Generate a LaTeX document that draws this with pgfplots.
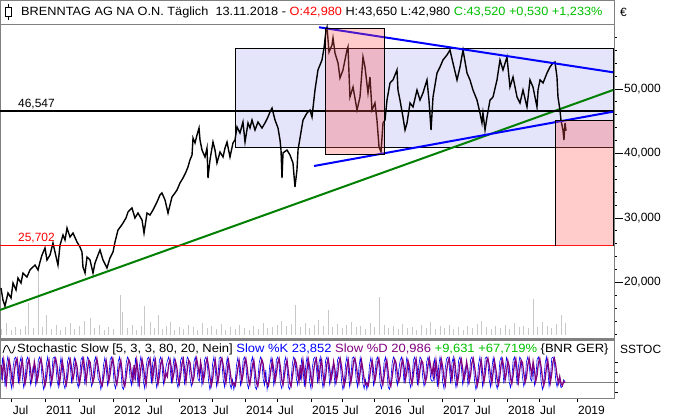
\documentclass[border=0pt]{standalone}
\usepackage{pgfplots}
\pgfplotsset{compat=1.18}
\usepackage{pgfplotstable}
\usepackage{fontspec}
\setmainfont{Liberation Sans}
\newfontfamily\wideA[FakeStretch=1.065]{Liberation Sans}
\newfontfamily\wideB[FakeStretch=1.085]{Liberation Sans}
\definecolor{lav}{RGB}{228,228,250}
\definecolor{pinkb}{RGB}{255,85,85}
\definecolor{dgreen}{RGB}{0,128,0}
\definecolor{tgreen}{RGB}{0,192,0}
\definecolor{purp}{RGB}{128,0,128}
\definecolor{framec}{RGB}{128,128,128}
\definecolor{volc}{RGB}{200,200,200}

\pgfplotstableread{
x y
2010.338 19.15
2010.368 17.29
2010.398 16.36
2010.444 18.37
2010.489 17.60
2010.519 19.92
2010.564 18.84
2010.594 20.70
2010.639 19.92
2010.669 21.47
2010.729 20.85
2010.774 21.94
2010.804 22.25
2010.850 22.71
2010.895 21.94
2010.925 23.18
2010.955 24.26
2011.000 25.35
2011.030 23.49
2011.075 24.26
2011.120 26.12
2011.150 24.73
2011.195 22.71
2011.226 25.81
2011.271 27.36
2011.301 26.59
2011.331 28.45
2011.376 27.05
2011.421 27.67
2011.481 26.28
2011.526 25.50
2011.556 24.73
2011.571 22.40
2011.602 21.47
2011.632 23.95
2011.677 23.49
2011.722 21.47
2011.752 23.02
2011.797 24.26
2011.827 25.04
2011.872 23.49
2011.932 22.25
2011.977 23.80
2012.023 24.73
2012.053 26.28
2012.098 28.14
2012.143 28.76
2012.173 29.22
2012.218 30.00
2012.248 30.93
2012.308 31.55
2012.353 30.00
2012.398 30.77
2012.459 29.69
2012.489 27.67
2012.534 30.77
2012.579 30.46
2012.624 31.24
2012.684 32.48
2012.729 33.57
2012.759 33.88
2012.805 32.79
2012.850 30.77
2012.880 32.02
2012.910 33.26
2012.955 33.88
2012.985 34.34
2013.030 35.43
2013.075 36.20
2013.120 37.13
2013.150 37.91
2013.180 38.99
2013.211 39.77
2013.226 42.40
2013.256 41.63
2013.286 42.87
2013.316 43.95
2013.331 42.09
2013.361 40.54
2013.406 39.46
2013.436 40.85
2013.451 36.20
2013.481 38.99
2013.526 41.78
2013.556 40.54
2013.586 38.53
2013.632 40.23
2013.677 39.46
2013.707 40.85
2013.737 41.78
2013.782 39.46
2013.827 41.63
2013.857 42.09
2013.887 44.11
2013.932 43.18
2013.977 44.88
2014.008 41.78
2014.053 44.73
2014.083 43.95
2014.113 45.19
2014.158 43.64
2014.203 44.88
2014.263 43.95
2014.308 44.73
2014.353 45.66
2014.383 46.43
2014.414 47.05
2014.459 45.19
2014.504 43.95
2014.534 42.09
2014.549 40.54
2014.564 36.20
2014.579 40.08
2014.639 40.54
2014.684 39.77
2014.729 38.53
2014.759 34.81
2014.789 37.44
2014.805 40.54
2014.835 42.40
2014.880 45.19
2014.940 46.28
2014.985 46.74
2015.015 45.66
2015.060 49.84
2015.105 52.95
2015.165 54.50
2015.196 56.36
2015.226 59.15
2015.241 59.61
2015.271 55.74
2015.316 56.82
2015.331 57.91
2015.361 55.58
2015.406 54.03
2015.436 51.71
2015.481 52.95
2015.541 56.05
2015.556 56.51
2015.586 48.76
2015.632 50.31
2015.692 46.74
2015.737 48.76
2015.782 54.96
2015.812 53.41
2015.857 49.38
2015.887 51.86
2015.917 46.74
2015.962 47.83
2015.992 45.19
2016.023 41.01
2016.053 40.23
2016.083 44.73
2016.113 45.19
2016.143 48.29
2016.188 50.93
2016.233 51.40
2016.293 52.95
2016.308 49.84
2016.338 48.29
2016.383 45.66
2016.414 43.64
2016.444 44.73
2016.489 47.83
2016.534 47.21
2016.594 49.84
2016.639 48.29
2016.684 49.38
2016.744 51.40
2016.774 48.29
2016.805 43.64
2016.835 48.76
2016.895 52.48
2016.940 53.41
2016.985 54.50
2017.045 55.27
2017.090 56.05
2017.135 54.03
2017.196 51.40
2017.241 53.41
2017.286 56.05
2017.346 52.48
2017.391 51.40
2017.436 49.84
2017.496 48.29
2017.541 46.28
2017.571 44.73
2017.586 46.28
2017.617 43.64
2017.647 45.66
2017.692 48.29
2017.737 48.76
2017.797 51.40
2017.842 54.50
2017.887 52.95
2017.947 54.96
2017.962 53.41
2017.992 50.31
2018.038 51.86
2018.098 48.76
2018.143 47.83
2018.188 49.84
2018.248 47.21
2018.293 51.40
2018.338 50.31
2018.398 47.21
2018.414 49.84
2018.444 51.40
2018.489 50.93
2018.549 52.48
2018.594 53.41
2018.639 54.03
2018.669 54.19
2018.699 51.86
2018.714 48.76
2018.744 46.74
2018.759 45.19
2018.789 43.64
2018.804 42.09
2018.820 44.73
2018.835 43.52
}\price

\pgfplotstableread{
x v
2010.35 6
2010.42 12
2010.49 5
2010.56 8
2010.63 6
2010.70 9
2010.75 32
2010.82 7
2010.90 65
2010.96 8
2011.03 20
2011.10 6
2011.17 10
2011.24 5
2011.31 8
2011.38 12
2011.45 6
2011.52 9
2011.59 14
2011.68 17
2011.75 7
2011.82 10
2011.89 5
2011.96 8
2012.03 6
2012.13 40
2012.17 23
2012.24 7
2012.31 10
2012.38 5
2012.45 9
2012.50 29
2012.58 13
2012.64 7
2012.70 20
2012.77 6
2012.83 9
2012.88 13
2012.95 5
2013.02 8
2013.09 6
2013.16 10
2013.23 8
2013.30 5
2013.37 12
2013.44 7
2013.51 9
2013.58 6
2013.65 11
2013.72 5
2013.79 8
2013.86 6
2013.93 10
2014.00 7
2014.07 5
2014.14 9
2014.21 6
2014.28 12
2014.35 7
2014.42 8
2014.49 10
2014.56 14
2014.63 9
2014.70 11
2014.77 30
2014.84 8
2014.91 12
2014.98 7
2015.05 10
2015.12 15
2015.19 9
2015.26 25
2015.33 8
2015.40 11
2015.47 7
2015.54 10
2015.61 13
2015.68 8
2015.75 9
2015.82 6
2015.89 12
2015.96 8
2016.03 38
2016.10 10
2016.17 7
2016.24 9
2016.31 6
2016.38 11
2016.45 7
2016.52 8
2016.59 5
2016.66 10
2016.73 7
2016.80 13
2016.87 6
2016.94 9
2017.01 7
2017.08 10
2017.15 6
2017.22 8
2017.29 5
2017.36 9
2017.43 7
2017.50 11
2017.57 14
2017.64 8
2017.71 6
2017.78 9
2017.85 7
2017.92 10
2017.99 6
2018.06 12
2018.13 8
2018.20 9
2018.27 7
2018.34 36
2018.41 8
2018.48 13
2018.55 9
2018.62 7
2018.69 11
2018.76 20
2018.83 12
}\vol

\pgfplotstableread{
x K D
2010.34 28 75
2010.36 98 40
2010.38 65 88
2010.40 8 55
2010.42 72 20
2010.44 100 62
2010.46 80 92
2010.48 23 70
2010.50 3 35
2010.52 68 15
2010.54 95 58
2010.56 100 85
2010.58 70 95
2010.60 18 60
2010.62 82 30
2010.64 100 72
2010.66 36 90
2010.68 6 48
2010.70 28 18
2010.72 90 40
2010.74 100 80
2010.76 75 93
2010.78 16 65
2010.80 38 28
2010.82 70 50
2010.84 70 85
2010.86 13 60
2010.88 33 25
2010.90 92 45
2010.92 100 82
2010.94 80 95
2010.96 26 70
2010.98 0 38
2011.00 18 12
2011.02 78 30
2011.04 100 68
2011.06 65 90
2011.08 10 55
2011.10 36 22
2011.12 96 48
2011.14 100 86
2011.16 85 96
2011.18 30 75
2011.20 8 42
2011.22 65 20
2011.24 98 55
2011.26 72 88
2011.28 18 62
2011.30 3 30
2011.32 30 15
2011.34 88 40
2011.36 100 78
2011.38 76 92
2011.40 18 66
2011.42 62 30
2011.44 98 52
2011.46 82 88
2011.48 23 72
2011.50 6 35
2011.52 33 18
2011.54 90 45
2011.56 100 80
2011.58 68 94
2011.60 13 58
2011.62 72 25
2011.64 100 62
2011.66 93 90
2011.68 38 83
2011.70 10 50
2011.72 26 22
2011.74 85 38
2011.76 100 75
2011.78 80 95
2011.80 33 70
2011.82 25 45
2011.84 0 20
2011.86 23 12
2011.88 75 35
2011.90 98 65
2011.92 70 88
2011.94 13 60
2011.96 36 25
2011.98 92 48
2012.00 100 82
2012.02 78 95
2012.04 18 68
2012.06 3 30
2012.08 30 15
2012.10 85 42
2012.12 100 75
2012.14 65 90
2012.16 8 55
2012.18 0 20
2012.20 26 10
2012.22 80 38
2012.24 100 70
2012.26 90 92
2012.28 33 80
2012.30 13 45
2012.32 60 25
2012.34 28 75
2012.36 98 40
2012.38 65 88
2012.40 8 55
2012.42 72 20
2012.44 100 62
2012.46 80 92
2012.48 23 70
2012.50 3 35
2012.52 68 15
2012.54 95 58
2012.56 100 85
2012.58 70 95
2012.60 18 60
2012.62 82 30
2012.64 100 72
2012.66 36 90
2012.68 6 48
2012.70 28 18
2012.72 90 40
2012.74 100 80
2012.76 75 93
2012.78 16 65
2012.80 38 28
2012.82 70 50
2012.84 88 40
2012.86 100 78
2012.88 76 92
2012.90 18 66
2012.92 62 30
2012.94 98 52
2012.96 82 88
2012.98 23 72
2013.00 6 35
2013.02 33 18
2013.04 90 45
2013.06 100 80
2013.08 68 94
2013.10 13 58
2013.12 72 25
2013.14 100 62
2013.16 93 90
2013.18 38 83
2013.20 10 50
2013.22 26 22
2013.24 85 38
2013.26 100 75
2013.28 80 95
2013.30 33 70
2013.32 25 45
2013.34 70 85
2013.36 13 60
2013.38 33 25
2013.40 92 45
2013.42 100 82
2013.44 80 95
2013.46 26 70
2013.48 0 38
2013.50 18 12
2013.52 78 30
2013.54 100 68
2013.56 65 90
2013.58 10 55
2013.60 36 22
2013.62 96 48
2013.64 100 86
2013.66 85 96
2013.68 30 75
2013.70 8 42
2013.72 65 20
2013.74 98 55
2013.76 72 88
2013.78 18 62
2013.80 3 30
2013.82 30 15
2013.84 0 20
2013.86 23 12
2013.88 75 35
2013.90 98 65
2013.92 70 88
2013.94 13 60
2013.96 36 25
2013.98 92 48
2014.00 100 82
2014.02 78 95
2014.04 18 68
2014.06 3 30
2014.08 30 15
2014.10 85 42
2014.12 100 75
2014.14 65 90
2014.16 8 55
2014.18 0 20
2014.20 26 10
2014.22 80 38
2014.24 100 70
2014.26 90 92
2014.28 33 80
2014.30 13 45
2014.32 60 25
2014.34 0 20
2014.36 23 12
2014.38 75 35
2014.40 98 65
2014.42 70 88
2014.44 13 60
2014.46 36 25
2014.48 92 48
2014.50 100 82
2014.52 78 95
2014.54 18 68
2014.56 3 30
2014.58 30 15
2014.60 85 42
2014.62 100 75
2014.64 65 90
2014.66 8 55
2014.68 0 20
2014.70 26 10
2014.72 80 38
2014.74 100 70
2014.76 90 92
2014.78 33 80
2014.80 13 45
2014.82 60 25
2014.84 28 75
2014.86 98 40
2014.88 65 88
2014.90 8 55
2014.92 72 20
2014.94 100 62
2014.96 80 92
2014.98 23 70
2015.00 3 35
2015.02 68 15
2015.04 95 58
2015.06 100 85
2015.08 70 95
2015.10 18 60
2015.12 82 30
2015.14 100 72
2015.16 36 90
2015.18 6 48
2015.20 28 18
2015.22 90 40
2015.24 100 80
2015.26 75 93
2015.28 16 65
2015.30 38 28
2015.32 70 50
2015.34 70 85
2015.36 13 60
2015.38 33 25
2015.40 92 45
2015.42 100 82
2015.44 80 95
2015.46 26 70
2015.48 0 38
2015.50 18 12
2015.52 78 30
2015.54 100 68
2015.56 65 90
2015.58 10 55
2015.60 36 22
2015.62 96 48
2015.64 100 86
2015.66 85 96
2015.68 30 75
2015.70 8 42
2015.72 65 20
2015.74 98 55
2015.76 72 88
2015.78 18 62
2015.80 3 30
2015.82 30 15
2015.84 0 20
2015.86 23 12
2015.88 75 35
2015.90 98 65
2015.92 70 88
2015.94 13 60
2015.96 36 25
2015.98 92 48
2016.00 100 82
2016.02 78 95
2016.04 18 68
2016.06 3 30
2016.08 30 15
2016.10 85 42
2016.12 100 75
2016.14 65 90
2016.16 8 55
2016.18 0 20
2016.20 26 10
2016.22 80 38
2016.24 100 70
2016.26 90 92
2016.28 33 80
2016.30 13 45
2016.32 60 25
2016.34 88 40
2016.36 100 78
2016.38 76 92
2016.40 18 66
2016.42 62 30
2016.44 98 52
2016.46 82 88
2016.48 23 72
2016.50 6 35
2016.52 33 18
2016.54 90 45
2016.56 100 80
2016.58 68 94
2016.60 13 58
2016.62 72 25
2016.64 100 62
2016.66 93 90
2016.68 38 83
2016.70 10 50
2016.72 26 22
2016.74 85 38
2016.76 100 75
2016.78 80 95
2016.80 33 70
2016.82 25 45
2016.84 28 75
2016.86 98 40
2016.88 65 88
2016.90 8 55
2016.92 72 20
2016.94 100 62
2016.96 80 92
2016.98 23 70
2017.00 3 35
2017.02 68 15
2017.04 95 58
2017.06 100 85
2017.08 70 95
2017.10 18 60
2017.12 82 30
2017.14 100 72
2017.16 36 90
2017.18 6 48
2017.20 28 18
2017.22 90 40
2017.24 100 80
2017.26 75 93
2017.28 16 65
2017.30 38 28
2017.32 70 50
2017.34 70 85
2017.36 13 60
2017.38 33 25
2017.40 92 45
2017.42 100 82
2017.44 80 95
2017.46 26 70
2017.48 0 38
2017.50 18 12
2017.52 78 30
2017.54 100 68
2017.56 65 90
2017.58 10 55
2017.60 36 22
2017.62 96 48
2017.64 100 86
2017.66 85 96
2017.68 30 75
2017.70 8 42
2017.72 65 20
2017.74 98 55
2017.76 72 88
2017.78 18 62
2017.80 3 30
2017.82 30 15
2017.84 88 40
2017.86 100 78
2017.88 76 92
2017.90 18 66
2017.92 62 30
2017.94 98 52
2017.96 82 88
2017.98 23 72
2018.00 6 35
2018.02 33 18
2018.04 90 45
2018.06 100 80
2018.08 68 94
2018.10 13 58
2018.12 72 25
2018.14 100 62
2018.16 93 90
2018.18 38 83
2018.20 10 50
2018.22 26 22
2018.24 85 38
2018.26 100 75
2018.28 80 95
2018.30 33 70
2018.32 25 45
2018.34 70 85
2018.36 13 60
2018.38 33 25
2018.40 92 45
2018.42 100 82
2018.44 80 95
2018.46 26 70
2018.48 0 38
2018.50 18 12
2018.52 78 30
2018.54 100 68
2018.56 65 90
2018.58 10 55
2018.60 36 22
2018.62 96 48
2018.64 100 86
2018.66 85 96
2018.68 30 75
2018.70 8 42
2018.72 28 20
2018.74 22 40
2018.76 6 18
2018.78 10 12
2018.80 30 25
2018.82 24 21
}\stoch

\begin{document}
\begin{tikzpicture}[x=1bp,y=1bp]
\path[fill=white,use as bounding box] (0bp,0bp) rectangle (680bp,-420bp);
% title bar
\draw[framec,line width=1bp] (0.5bp,-0.5bp) rectangle (614bp,-24bp);
\draw[black,line width=0.8bp] (8.5bp,-4bp) -- (8.5bp,-20bp);
\draw[black,fill=white,line width=0.8bp] (5.5bp,-7.5bp) rectangle (11.5bp,-16.5bp);
\node[anchor=west,inner sep=0pt,font=\wideA\fontsize{12}{14}\selectfont] at (21bp,-12bp) {BRENNTAG AG NA O.N. Täglich\ \ 13.11.2018 - \textcolor{red}{O:42,980} H:43,650 L:42,980 \textcolor{tgreen}{C:43,520 +0,530 +1,233\%}};
\node[anchor=west,inner sep=0pt,font=\fontsize{12}{14}\selectfont] at (620bp,-12bp) {€};

% volume overlay
\begin{axis}[at={(0bp,-335bp)}, anchor=south west, scale only axis,
  width=614bp, height=100bp, xmin=2010.3233, xmax=2019.5566, ymin=0, ymax=100,
  axis lines=none]
\addplot[ycomb, volc, line width=1bp, mark=none] table[x=x,y=v] {\vol};
\end{axis}

% main price panel
\begin{axis}[at={(0bp,-24bp)}, anchor=north west, scale only axis,
  width=614bp, height=315bp,
  xmin=2010.3233, xmax=2019.5566, ymin=11.239, ymax=60.077,
  axis line style={framec, line width=1bp},
  xtick=\empty,
  ytick={20,30,40,50},
  minor ytick={12,14,16,18,22,24,26,28,32,34,36,38,42,44,46,48,52,54,56,58},
  ytick pos=right, yticklabel pos=right, tick align=outside,
  major tick length=9bp, minor tick length=3bp,
  tick style={black, line width=0.8bp},
  yticklabel style={font=\fontsize{12}{14}\selectfont, inner sep=1bp,
    /pgf/number format/.cd, fixed, fixed zerofill, precision=3, use comma, 1000 sep={}},
  /pgf/number format/assume math mode=true,
  clip=true]
\fill[lav] (2013.857,41.007) rectangle (2019.542,56.356);
\draw[black, line width=0.8bp] (2013.857,41.007) rectangle (2019.542,56.356);
\addplot[dgreen, line width=2bp, mark=none] coordinates {(2010.3233,15.74) (2019.542,49.84)};
\addplot[black, line width=1.4bp, mark=none] table[x=x,y=y] {\price};
\addplot[black, line width=1.8bp, mark=none] coordinates {(2010.3233,46.547) (2019.5566,46.547)};
\addplot[red, line width=0.9bp, mark=none] coordinates {(2010.3233,25.702) (2019.5566,25.702)};
\addplot[blue, line width=2bp, mark=none] coordinates {(2015.12,59.57) (2019.542,52.59)};
\addplot[blue, line width=2bp, mark=none] coordinates {(2015.045,38.06) (2019.542,46.48)};
\fill[pinkb, fill opacity=0.3] (2015.221,39.876) rectangle (2016.102,59.411);
\draw[black, line width=0.8bp] (2015.221,39.876) rectangle (2016.102,59.411);
\fill[pinkb, fill opacity=0.3] (2018.674,25.702) rectangle (2019.542,45.194);
\draw[black, line width=0.8bp] (2018.674,25.702) -- (2018.674,45.194) -- (2019.542,45.194) -- (2019.542,25.702);
\node[anchor=base west, inner sep=0pt, font=\fontsize{12}{14}\selectfont] at (2010.594,47.17) {46,547};
\node[anchor=base west, inner sep=0pt, font=\fontsize{12}{14}\selectfont, text=red] at (2010.594,26.32) {25,702};
\end{axis}

% separator
\draw[framec, line width=2.5bp] (0bp,-339.5bp) -- (614bp,-339.5bp);

% stochastic panel
\begin{axis}[at={(0bp,-340bp)}, anchor=north west, scale only axis,
  width=614bp, height=58bp,
  xmin=2010.3233, xmax=2019.5566, ymin=-26.2, ymax=152.3,
  axis line style={framec, line width=1bp},
  xtick={2010.499,2011.0,2011.511,2012.023,2012.519,2013.015,2013.511,2014.008,2014.489,2015.0,2015.466,2015.947,2016.459,2016.970,2017.451,2017.947,2018.429,2019.0},
  xticklabels={Jul,2011,Jul,2012,Jul,2013,Jul,2014,Jul,2015,Jul,2016,Jul,2017,Jul,2018,Jul,2019},
  ytick={-7.7,23.1,53.8,84.6}, yticklabels={},
  xtick pos=bottom, ytick pos=right, tick align=outside,
  major tick length=4bp,
  tick style={black, line width=0.8bp},
  xticklabel style={font=\fontsize{12}{14}\selectfont, anchor=north west, inner sep=0pt, xshift=1bp, yshift=-4bp},
  clip=true]
\addplot[framec, line width=1bp, mark=none] coordinates {(2010.3233,20) (2019.5566,20)};
\addplot[blue, line width=0.6bp, mark=none] table[x=x,y=K] {\stoch};
\addplot[purp, line width=1.25bp, mark=none] table[x=x,y=D] {\stoch};
\end{axis}
\draw[black, line width=0.8bp] plot[smooth] coordinates {(3bp,-353bp) (5bp,-347bp) (7bp,-345.5bp) (9bp,-349bp) (11bp,-353bp) (13bp,-352bp) (15bp,-346bp)};
\node[anchor=west,inner sep=0pt,font=\wideB\fontsize{12}{14}\selectfont] at (17bp,-349bp) {Stochastic Slow [5, 3, 3, 80, 20, Nein] \textcolor{blue}{Slow \%K 23,852} \textcolor{purp}{Slow \%D 20,986} \textcolor{tgreen}{+9,631 +67,719\%} \{BNR GER\}};
\node[anchor=west,inner sep=0pt,font=\fontsize{12}{14}\selectfont] at (620bp,-349bp) {SSTOC};
\end{tikzpicture}
\end{document}
